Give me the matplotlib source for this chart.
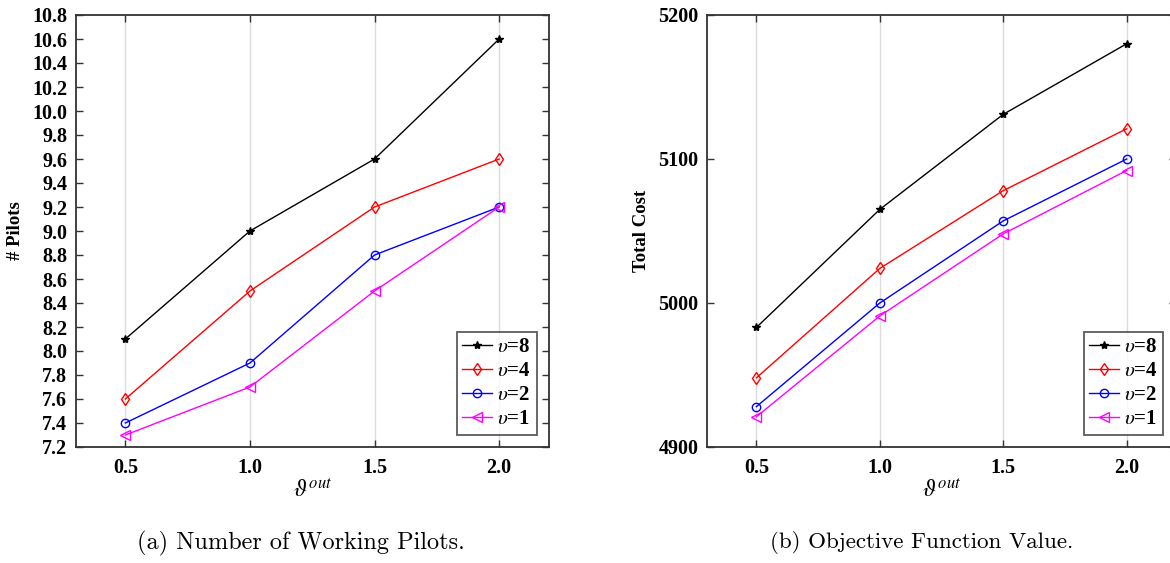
import matplotlib
matplotlib.use("Agg")
import matplotlib.pyplot as plt
import numpy as np

plt.rcParams["mathtext.fontset"] = "stix"

# data
theta_out = [0.5, 1.0, 1.5, 2.0]
series_labels = [r"$\upsilon$=8", r"$\upsilon$=4", r"$\upsilon$=2", r"$\upsilon$=1"]

pilots_v8 = [8.1, 9.0, 9.6, 10.6]
pilots_v4 = [7.6, 8.5, 9.2, 9.6]
pilots_v2 = [7.4, 7.9, 8.8, 9.2]
pilots_v1 = [7.3, 7.7, 8.5, 9.2]

cost_v8 = [4983, 5065, 5131, 5180]
cost_v4 = [4948, 5024, 5078, 5121]
cost_v2 = [4928, 5000, 5057, 5100]
cost_v1 = [4921, 4991, 5048, 5092]

styles = [
    dict(color="black", marker="*", markersize=6, markerfacecolor="black"),
    dict(color="red", marker="d", markersize=6, markerfacecolor="none"),
    dict(color="blue", marker="o", markersize=6, markerfacecolor="none"),
    dict(color="magenta", marker="<", markersize=7, markerfacecolor="none"),
]

TICK_FONT = dict(family="Liberation Serif", weight="bold", size=14.5)


def style_axes(ax, ylabel):
    ax.set_xlim(0.3, 2.2)
    ax.set_xticks(theta_out)
    ax.set_xticklabels([f"{v:.1f}" for v in theta_out])
    for lab in ax.get_xticklabels() + ax.get_yticklabels():
        lab.set_fontfamily(TICK_FONT["family"])
        lab.set_fontweight(TICK_FONT["weight"])
        lab.set_fontsize(TICK_FONT["size"])
    ax.grid(axis="x", color="#dcdcdc", linewidth=1.0)
    ax.set_axisbelow(True)
    ax.tick_params(direction="in", top=True, right=True, length=5, width=1.0,
                   color="#333333", pad=6)
    ax.tick_params(axis="x", pad=8)
    for sp in ax.spines.values():
        sp.set_color("#333333")
        sp.set_linewidth(1.3)
    ax.set_xlabel(r"$\vartheta^{out}$", fontsize=17, labelpad=0)
    ax.set_ylabel(ylabel, fontfamily="Liberation Serif", fontweight="bold", fontsize=13.5,
                  labelpad=6)
    leg = ax.legend(loc="lower right", frameon=True, fancybox=False, borderaxespad=0.6,
                    handlelength=1.45, handletextpad=0.25, borderpad=0.25, labelspacing=0.2,
                    prop=dict(family="Liberation Serif", weight="bold", size=15))
    leg.get_frame().set_edgecolor("#333333")
    leg.get_frame().set_linewidth(1.3)


fig = plt.figure(figsize=(11.7, 5.63), dpi=100)
ax1 = fig.add_axes([75.5 / 1170, 1 - 447 / 563, (549 - 75.5) / 1170, (447 - 15) / 563])
ax2 = fig.add_axes([707 / 1170, 1 - 447 / 563, (1176 - 707) / 1170, (447 - 15) / 563])

for vals, lab, st in zip([pilots_v8, pilots_v4, pilots_v2, pilots_v1], series_labels, styles):
    ax1.plot(theta_out, vals, label=lab, linewidth=1.0, markeredgewidth=1.0, **st)
ax1.set_ylim(7.2, 10.8)
ax1.set_yticks(np.round(np.arange(7.2, 10.81, 0.2), 1))
ax1.set_yticklabels([f"{v:.1f}" for v in np.arange(7.2, 10.81, 0.2)])
style_axes(ax1, "# Pilots")

for vals, lab, st in zip([cost_v8, cost_v4, cost_v2, cost_v1], series_labels, styles):
    ax2.plot(theta_out, vals, label=lab, linewidth=1.0, markeredgewidth=1.0, **st)
ax2.set_ylim(4900, 5200)
ax2.set_yticks([4900, 5000, 5100, 5200])
style_axes(ax2, "Total Cost")

fig.text(301 / 1170, 1 - 543 / 563, "(a) Number of Working Pilots.", ha="center", va="center",
         fontfamily="cmr10", fontsize=17.5)
fig.text(922 / 1170, 1 - 543 / 563, "(b) Objective Function Value.", ha="center", va="center",
         fontfamily="cmr10", fontsize=16.6)

fig.savefig("out.png", dpi=100)
